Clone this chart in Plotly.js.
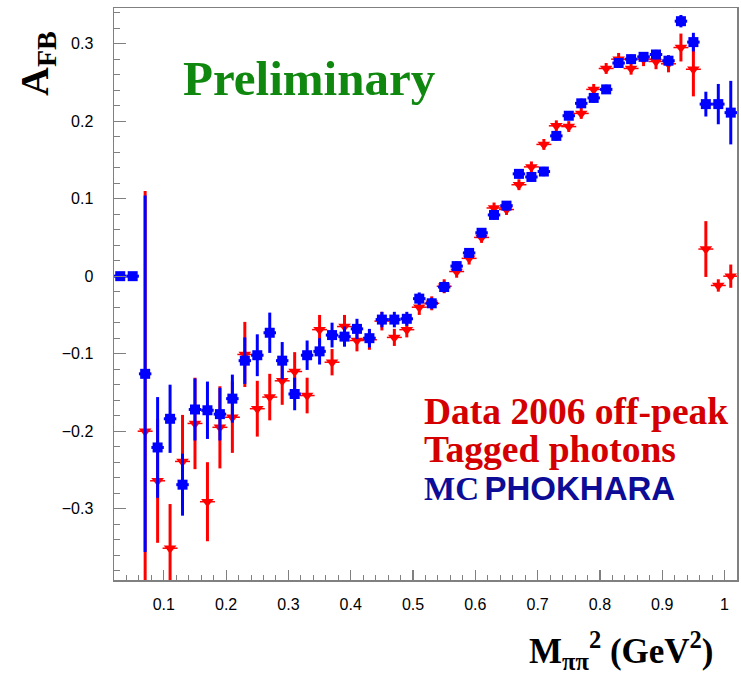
<!DOCTYPE html>
<html>
<head>
<meta charset="utf-8">
<script src="https://cdn.plot.ly/plotly-3.0.1.min.js"></script>
<style>
  html, body { margin: 0; padding: 0; background: #ffffff; }
  #chart { width: 741px; height: 675px; }
</style>
</head>
<body>
<div id="chart"></div>
<script>
// M_pipi^2 bin centres (GeV^2), bin width 0.02
const massBins = [
  0.03, 0.05, 0.07, 0.09, 0.11, 0.13, 0.15, 0.17, 0.19, 0.21,
  0.23, 0.25, 0.27, 0.29, 0.31, 0.33, 0.35, 0.37, 0.39, 0.41,
  0.43, 0.45, 0.47, 0.49, 0.51, 0.53, 0.55, 0.57, 0.59, 0.61,
  0.63, 0.65, 0.67, 0.69, 0.71, 0.73, 0.75, 0.77, 0.79, 0.81,
  0.83, 0.85, 0.87, 0.89, 0.91, 0.93, 0.95, 0.97, 0.99, 1.01
];

// Forward-backward asymmetry, 2006 off-peak data with tagged photons
const afbData = [
  null, null, -0.200, -0.264, -0.351, -0.239, -0.190, -0.291, -0.195, -0.182,
  -0.101, -0.171, -0.156, -0.135, -0.123, -0.154, -0.069, -0.111, -0.065, -0.083,
  -0.082, -0.058, -0.079, -0.069, -0.040, -0.035, -0.013, 0.006, 0.023, 0.050,
  0.088, 0.086, 0.118, 0.141, 0.170, 0.194, 0.193, 0.210, 0.241, 0.268,
  0.280, 0.268, 0.280, 0.277, 0.274, 0.295, 0.267, 0.035, -0.012, 0.000
];
const errData = [
  null, null, 0.310, 0.080, 0.057, 0.060, 0.059, 0.051, 0.053, 0.046,
  0.042, 0.036, 0.030, 0.031, 0.025, 0.023, 0.019, 0.017, 0.015, 0.014,
  0.013, 0.012, 0.011, 0.010, 0.010, 0.009, 0.009, 0.008, 0.008, 0.007,
  0.007, 0.007, 0.007, 0.007, 0.007, 0.007, 0.007, 0.007, 0.007, 0.007,
  0.008, 0.008, 0.009, 0.010, 0.011, 0.018, 0.035, 0.036, 0.008, 0.015
];

// PHOKHARA Monte Carlo prediction
const afbMC = [
  0.000, 0.000, -0.126, -0.221, -0.184, -0.269, -0.172, -0.173, -0.178, -0.158,
  -0.109, -0.102, -0.073, -0.109, -0.152, -0.102, -0.097, -0.076, -0.078, -0.068,
  -0.080, -0.056, -0.056, -0.055, -0.029, -0.035, -0.014, 0.013, 0.030, 0.056,
  0.079, 0.091, 0.132, 0.128, 0.135, 0.181, 0.207, 0.223, 0.230, 0.241,
  0.275, 0.280, 0.283, 0.286, 0.278, 0.329, 0.302, 0.222, 0.222, 0.211
];
const errMC = [
  0.000, 0.000, 0.230, 0.065, 0.044, 0.040, 0.040, 0.037, 0.034, 0.031,
  0.030, 0.027, 0.026, 0.024, 0.021, 0.019, 0.017, 0.016, 0.013, 0.013,
  0.012, 0.010, 0.010, 0.009, 0.008, 0.007, 0.007, 0.006, 0.006, 0.006,
  0.006, 0.006, 0.006, 0.006, 0.006, 0.006, 0.006, 0.006, 0.006, 0.006,
  0.006, 0.006, 0.006, 0.006, 0.007, 0.008, 0.012, 0.016, 0.026, 0.041
];

const yTickVals = [-0.3, -0.2, -0.1, 0, 0.1, 0.2, 0.3];
const yTickText = ['\u22120.3', '\u22120.2', '\u22120.1', '0', '0.1', '0.2', '0.3'];
const xTickVals = [0.1, 0.2, 0.3, 0.4, 0.5, 0.6, 0.7, 0.8, 0.9, 1];
const xTickText = ['0.1', '0.2', '0.3', '0.4', '0.5', '0.6', '0.7', '0.8', '0.9', '1'];

const RED = '#ff0000';
const BLUE = '#0000ff';
const SERIF = 'Liberation Serif, Times New Roman, serif';

const dataTrace = {
  x: massBins, y: afbData, type: 'scatter', mode: 'markers',
  name: 'Data 2006 off-peak',
  marker: { symbol: 'triangle-down', size: 11, color: RED },
  error_y: { type: 'data', array: errData, visible: true, color: RED, thickness: 3, width: 0 },
  error_x: { type: 'constant', value: 0.012, visible: true, color: RED, thickness: 1.5, width: 0 },
  hoverinfo: 'x+y'
};

const mcTrace = {
  x: massBins, y: afbMC, type: 'scatter', mode: 'markers',
  name: 'MC PHOKHARA',
  marker: { symbol: 'square', size: 10, color: BLUE },
  error_y: { type: 'data', array: errMC, visible: true, color: BLUE, thickness: 3, width: 0 },
  error_x: { type: 'constant', value: 0.01, visible: true, color: BLUE, thickness: 3, width: 0 },
  hoverinfo: 'x+y'
};

const axisCommon = {
  showgrid: false, zeroline: false,
  showline: true, linecolor: '#808080', linewidth: 1.5, mirror: true,
  ticks: 'inside', tickcolor: '#808080', tickwidth: 1.2,
  tickfont: { family: 'Liberation Sans, Arial, sans-serif', size: 16, color: '#000000' }
};

const layout = {
  width: 741, height: 675,
  margin: { l: 114, r: 4, t: 8, b: 95 },
  paper_bgcolor: '#ffffff', plot_bgcolor: '#ffffff',
  showlegend: false,
  xaxis: Object.assign({}, axisCommon, {
    range: [0.02, 1.02],
    tickvals: xTickVals, ticktext: xTickText,
    ticklen: 10, ticklabelstandoff: 9,
    minor: { dtick: 0.02, tick0: 0, ticks: 'inside', ticklen: 5, tickcolor: '#808080', tickwidth: 1 }
  }),
  yaxis: Object.assign({}, axisCommon, {
    range: [-0.392, 0.346],
    tickvals: yTickVals, ticktext: yTickText,
    ticklen: 12, ticklabelstandoff: 16,
    minor: { dtick: 0.02, tick0: 0, ticks: 'inside', ticklen: 6, tickcolor: '#808080', tickwidth: 1 }
  }),
  annotations: [
    {
      text: '<b>Preliminary</b>', xref: 'paper', yref: 'paper',
      x: 0.3146, y: 0.8776, xanchor: 'center', yanchor: 'middle', showarrow: false,
      font: { family: SERIF, size: 49, color: '#108810' }
    },
    {
      text: '<b>Data 2006 off-peak</b>', xref: 'paper', yref: 'paper',
      x: 0.4944, y: (580 - 411) / 572, xanchor: 'left', yanchor: 'middle', showarrow: false,
      font: { family: SERIF, size: 37.5, color: '#d40000' }
    },
    {
      text: '<b>Tagged photons</b>', xref: 'paper', yref: 'paper',
      x: 0.4944, y: (580 - 449) / 572, xanchor: 'left', yanchor: 'middle', showarrow: false,
      font: { family: SERIF, size: 37.5, color: '#d40000' }
    },
    {
      text: '<b>MC</b><span style="font-size:22px"> </span><span style="font-family:Liberation Sans, Arial, sans-serif;font-size:33px"><b>PHOKHARA</b></span>',
      xref: 'paper', yref: 'paper',
      x: 0.4944, y: (580 - 488) / 572, xanchor: 'left', yanchor: 'middle', showarrow: false,
      font: { family: SERIF, size: 33, color: '#0c0c96' }
    },
    {
      text: '<b>A<sub>FB</sub></b>', xref: 'paper', yref: 'paper',
      x: (37 - 114) / 623, y: (580 - 64) / 572, xanchor: 'center', yanchor: 'middle',
      textangle: -90, showarrow: false,
      font: { family: SERIF, size: 40, color: '#000000' }
    },
    {
      text: '<b>M<sub>ππ</sub><sup>2</sup> (GeV<sup>2</sup>)</b>', xref: 'paper', yref: 'paper',
      x: (716 - 114) / 623, y: (580 - 650) / 572, xanchor: 'right', yanchor: 'middle', showarrow: false,
      font: { family: SERIF, size: 35, color: '#000000' }
    }
  ]
};

Plotly.newPlot('chart', [dataTrace, mcTrace], layout, { displayModeBar: false, staticPlot: true });
</script>
</body>
</html>
